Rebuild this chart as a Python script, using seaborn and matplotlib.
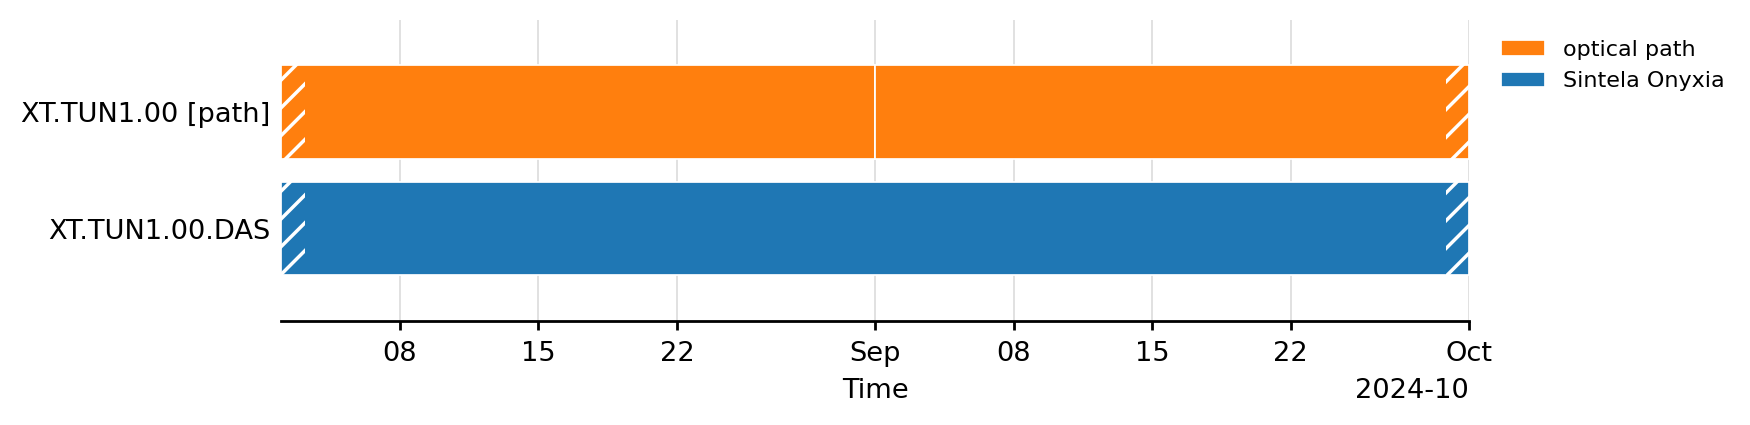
import pandas as pd
import numpy as np
import matplotlib
matplotlib.use('Agg')
import matplotlib.pyplot as plt
import matplotlib.dates as mdates
import seaborn as sns

# Canais (de cima para baixo) e instrumentos
channels = ['XT.TUN1.00 [path]', 'XT.TUN1.00.DAS']
instruments = ['optical path', 'Sintela Onyxia']

# Blocos de dados por canal
block_channel = ['XT.TUN1.00 [path]', 'XT.TUN1.00 [path]', 'XT.TUN1.00.DAS']
block_start = ['2024-08-02', '2024-09-01', '2024-08-02']
block_end = ['2024-09-01', '2024-10-01', '2024-10-01']

# Trechos parciais (hachurados)
part_channel = ['XT.TUN1.00 [path]', 'XT.TUN1.00 [path]', 'XT.TUN1.00.DAS', 'XT.TUN1.00.DAS']
part_start = ['2024-08-02 00:00', '2024-09-29 20:00', '2024-08-02 00:00', '2024-09-29 20:00']
part_end = ['2024-08-03 05:00', '2024-10-01 00:00', '2024-08-03 05:00', '2024-10-01 00:00']

x_range = ['2024-08-02', '2024-10-01']

sns.set_style('ticks')
plt.rcParams['font.family'] = ['DejaVu Sans']
plt.rcParams['font.size'] = 7.85
plt.rcParams['hatch.linewidth'] = 1.0
for k in ['text.color', 'axes.labelcolor', 'xtick.color', 'ytick.color', 'axes.edgecolor']:
    plt.rcParams[k] = 'black'

palette = dict(zip(channels, sns.color_palette('tab10')[:2][::-1]))

blocks = pd.DataFrame({'channel': block_channel,
                       'start': pd.to_datetime(block_start),
                       'end': pd.to_datetime(block_end)})
parts = pd.DataFrame({'channel': part_channel,
                      'start': pd.to_datetime(part_start),
                      'end': pd.to_datetime(part_end)})

fig = plt.figure(figsize = (7, 1.7), dpi = 250)
ax = fig.add_axes([0.1606, 0.2447, 0.6788, 0.7083])

ypos = {c: i for i, c in enumerate(channels)}

for ch, lab in zip(channels, instruments):
    sub = blocks[blocks['channel'] == ch]
    for j, row in enumerate(sub.itertuples()):
        ax.barh(ypos[ch], row.end - row.start, left = row.start, height = 0.8,
                color = palette[ch], edgecolor = 'white', linewidth = 0.5,
                label = lab if j == 0 else None)

for row in parts.itertuples():
    ax.barh(ypos[row.channel], row.end - row.start, left = row.start, height = 0.8,
            facecolor = 'none', edgecolor = 'white', linewidth = 0, hatch = '///')

ax.set_yticks(range(len(channels)))
ax.set_yticklabels(channels)
ax.set_ylim(len(channels) - 1 + 0.79, -0.79)
ax.set_xlim(pd.to_datetime(x_range[0]), pd.to_datetime(x_range[1]))

locator = mdates.DayLocator(bymonthday = [1, 8, 15, 22])
formatter = mdates.ConciseDateFormatter(locator,
                                        offset_formats = ['', '%Y', '%Y-%m', '%Y-%m-%d', '%Y-%m-%d', '%Y-%m-%d %H:%M'])
ax.xaxis.set_major_locator(locator)
ax.xaxis.set_major_formatter(formatter)

ax.grid(axis = 'x', color = '#dddddd', linewidth = 0.5)
ax.set_axisbelow(True)
ax.tick_params(axis = 'y', length = 0, pad = 3)
ax.tick_params(axis = 'x', length = 2.5, pad = 3.3)
ax.set_xlabel('Time', labelpad = 3)
sns.despine(ax = ax, left = True)

ax.legend(loc = 'upper left', bbox_to_anchor = (1.01, 1.0), frameon = False, fontsize = 6.4)

fig.savefig('out.png', dpi = 250)
